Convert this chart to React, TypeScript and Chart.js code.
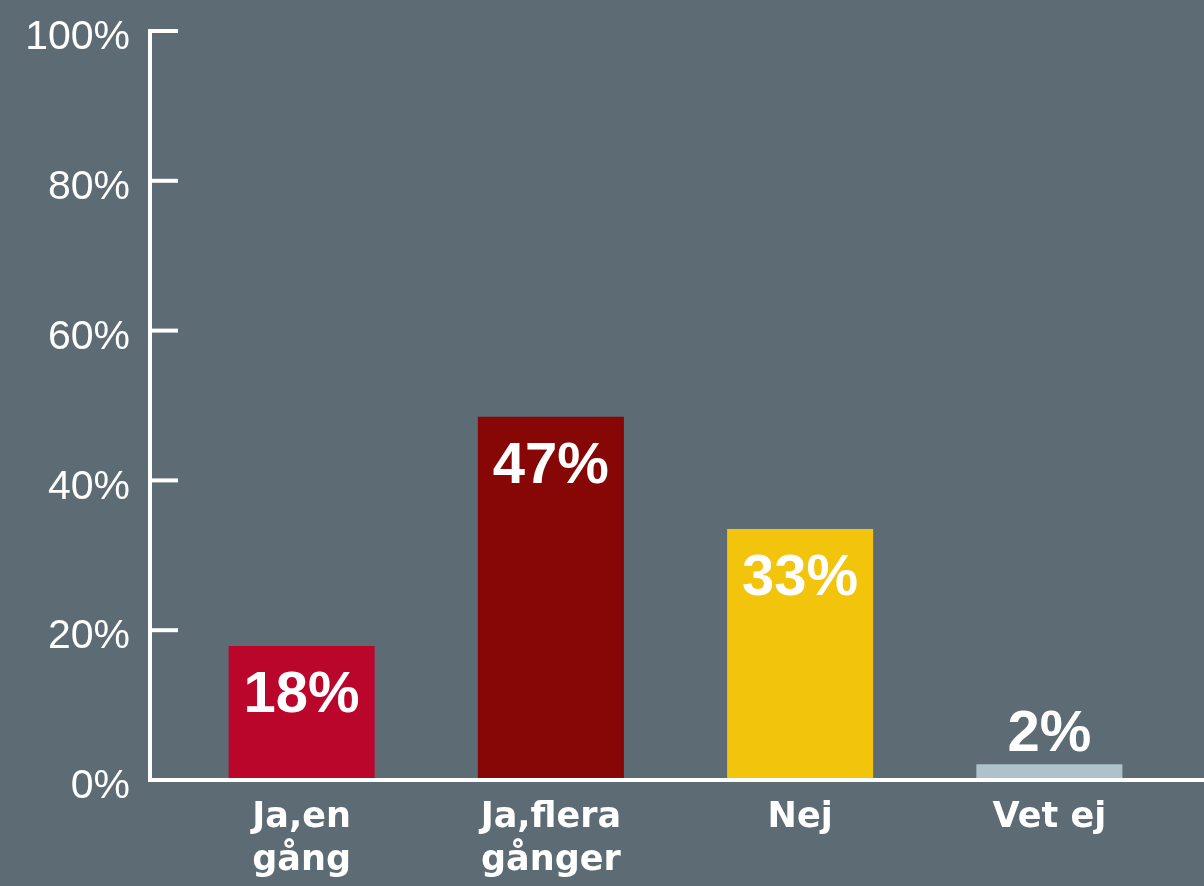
import React, { useEffect, useRef } from 'react';
import { Chart, registerables } from 'chart.js';

Chart.register(...registerables);

const categories: string[][] = [['Ja,en', 'gång'], ['Ja,flera', 'gånger'], ['Nej'], ['Vet ej']];
const values: number[] = [17.9, 48.5, 33.5, 2.1];
const valueLabels: string[] = ['18%', '47%', '33%', '2%'];
const barColors: string[] = ['#bb062b', '#870606', '#f2c40b', '#aec2cc'];
const yTicks: number[] = [0, 20, 40, 60, 80, 100];

const BG = '#5d6c74';
const LABEL_FONT = '"Liberation Sans", Arial, sans-serif';
const CAT_FONT = '"DejaVu Sans", sans-serif';

const axisPlugin = {
  id: 'customAxes',
  afterDatasetsDraw(chart: any) {
    const { ctx, chartArea, scales } = chart;
    const y = scales.y;
    const axisX = chartArea.left - 27;
    const y0 = y.getPixelForValue(0);
    const y100 = y.getPixelForValue(100);
    ctx.save();
    ctx.strokeStyle = '#ffffff';
    ctx.lineWidth = 4;
    ctx.lineCap = 'butt';
    ctx.beginPath();
    ctx.moveTo(axisX, y100 - 2);
    ctx.lineTo(axisX, y0 + 2);
    ctx.stroke();
    ctx.beginPath();
    ctx.moveTo(axisX - 2, y0);
    ctx.lineTo(chart.width, y0);
    ctx.stroke();
    yTicks.forEach((v) => {
      const py = y.getPixelForValue(v);
      ctx.beginPath();
      ctx.moveTo(axisX, py);
      ctx.lineTo(chartArea.left + 1, py);
      ctx.stroke();
    });
    const meta = chart.getDatasetMeta(0);
    ctx.fillStyle = '#ffffff';
    ctx.textAlign = 'center';
    ctx.textBaseline = 'alphabetic';
    ctx.font = `bold 58px ${LABEL_FONT}`;
    meta.data.forEach((bar: any, i: number) => {
      const v = values[i];
      if (v < 10) {
        ctx.fillText(valueLabels[i], bar.x, bar.y - 13);
      } else {
        ctx.fillText(valueLabels[i], bar.x, bar.y + 66);
      }
    });
    ctx.restore();
  },
};

export default function App() {
  const ref = useRef<HTMLCanvasElement | null>(null);
  useEffect(() => {
    document.body.style.margin = '0';
    document.body.style.background = BG;
    if (!ref.current) return;
    const chart = new Chart(ref.current, {
      type: 'bar',
      data: {
        labels: categories,
        datasets: [
          {
            data: values,
            backgroundColor: barColors,
            borderWidth: 0,
            barPercentage: 0.586,
            categoryPercentage: 1,
          },
        ],
      },
      options: {
        responsive: false,
        maintainAspectRatio: false,
        animation: false,
        layout: { padding: { top: 0, right: 30, left: 0, bottom: 0 } },
        plugins: {
          legend: { display: false },
          tooltip: { enabled: false },
        },
        scales: {
          x: {
            grid: { display: false, drawTicks: false },
            border: { display: false },
            ticks: {
              color: '#ffffff',
              font: { family: CAT_FONT, size: 35, weight: 'bold', lineHeight: 1.22 },
              padding: 17,
              maxRotation: 0,
              autoSkip: false,
            },
            afterFit: (scale: any) => {
              scale.height = 106;
            },
          },
          y: {
            min: 0,
            max: 100,
            grid: { display: false, drawTicks: false },
            border: { display: false },
            ticks: {
              stepSize: 20,
              color: '#ffffff',
              font: { family: LABEL_FONT, size: 41, weight: 'normal', lineHeight: 0.34 },
              padding: 47,
              callback: (v: any) => ['', `${v}%`],
            },
            afterFit: (scale: any) => {
              scale.width = 177;
              scale.paddingTop = 31;
              scale.paddingBottom = 0;
            },
          },
        },
      },
      plugins: [axisPlugin],
    });
    return () => chart.destroy();
  }, []);
  return (
    <div style={{ width: 1204, height: 886, background: BG }}>
      <canvas ref={ref} width={1204} height={886} style={{ display: 'block' }} />
    </div>
  );
}
